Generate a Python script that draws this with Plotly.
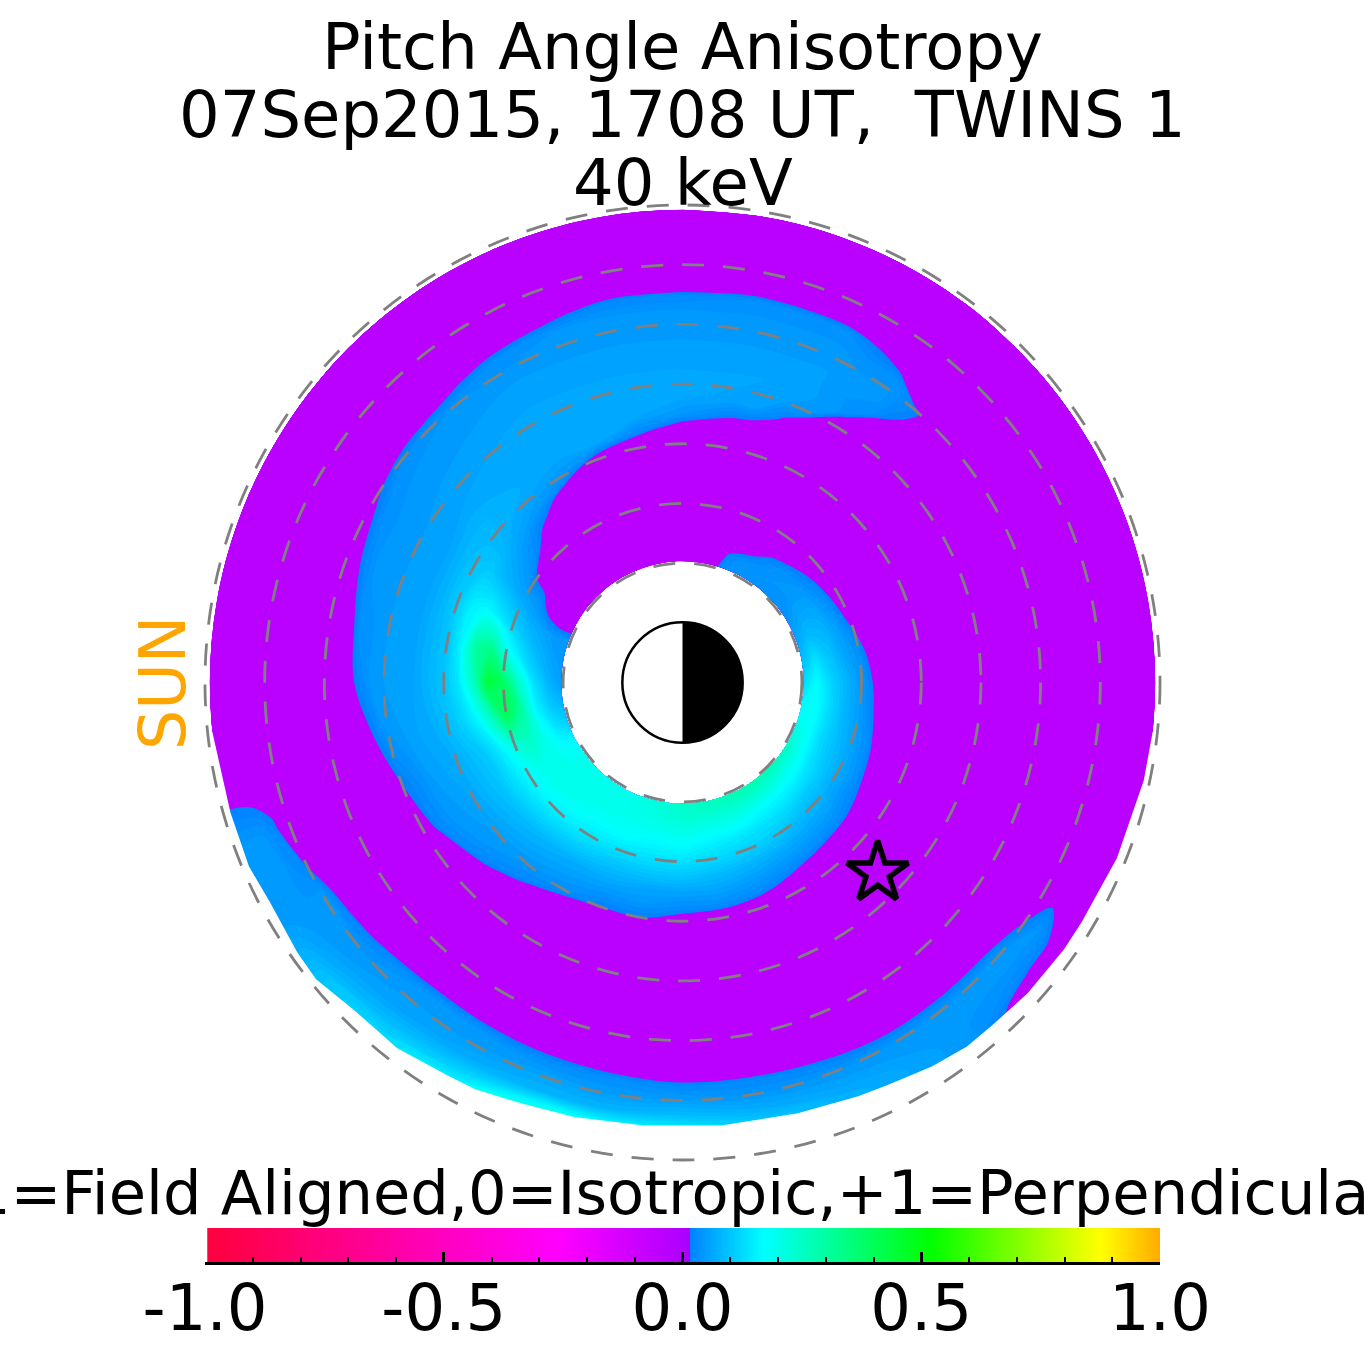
import numpy as np
import plotly.graph_objects as go

# ---- data ----
title_lines = ["Pitch Angle Anisotropy", "07Sep2015, 1708 UT,  TWINS 1", "40 keV"]
cbar_label = "-1=Field Aligned,0=Isotropic,+1=Perpendicular"
cbar_ticks = [-1.0, -0.5, 0.0, 0.5, 1.0]
cbar_ticktext = ["-1.0", "-0.5", "0.0", "0.5", "1.0"]
cbar_minor = [-0.9, -0.8, -0.7, -0.6, -0.4, -0.3, -0.2, -0.1, 0.1, 0.2, 0.3, 0.4, 0.6, 0.7, 0.8, 0.9]
star_xy = [3.27, -3.19]

# radial distance of grid rings (L)
rings = [2.03, 2.25, 2.5, 2.75, 3.0, 3.25, 3.5, 3.75, 4.0, 4.25, 4.5, 4.75, 5.0, 5.25,
         5.5, 5.75, 6.0, 6.25, 6.5, 6.75, 7.0, 7.25, 7.5, 7.75, 7.92]
# azimuth of each row (deg, counter-clockwise from the +x axis)
angles = [0, 10, 20, 30, 40, 50, 55, 60, 65, 70, 75, 80, 90, 100, 110, 120, 130, 140, 150, 160, 170, 180,
          190, 200, 210, 220, 230, 240, 250, 260, 270, 280, 290, 300, 310, 320, 325, 330, 340, 350]
# anisotropy x 100, one row per angle, one column per ring
aniso = [
 [12,17,11,7,3,-1,-5,-5,-5,-5,-5,-5,-5,-5,-5,-5,-5,-5,-5,-5,-5,-5,-5,-5,-5],
 [8,13,9,5,2,-3,-5,-5,-5,-5,-5,-5,-5,-5,-5,-5,-5,-5,-5,-5,-5,-5,-5,-5,-5],
 [5,8,7,4,-1,-4,-5,-5,-5,-5,-5,-5,-5,-5,-5,-5,-5,-5,-5,-5,-5,-5,-5,-5,-5],
 [3,5,5,2,-3,-5,-5,-5,-5,-5,-5,-5,-5,-5,-5,-5,-5,-5,-5,-5,-5,-5,-5,-5,-5],
 [2,3,3,0,-3,-5,-5,-5,-5,-5,-5,-5,-5,-5,-5,-5,-5,-5,-5,-5,-5,-5,-5,-5,-5],
 [2,3,2,-2,-5,-5,-5,-5,-5,-5,-5,-5,-5,-5,-5,0,1,-4,-5,-5,-5,-5,-5,-5,-5],
 [2,3,1,-3,-5,-5,-5,-5,-5,-5,-5,-5,-5,-4,2,3,3,2,-3,-5,-5,-5,-5,-5,-5],
 [2,3,-1,-5,-5,-5,-5,-5,-5,-5,-5,-5,-4,3,3,3,3,2,0,-5,-5,-5,-5,-5,-5],
 [2,2,-2,-5,-5,-5,-5,-5,-5,-5,-5,-4,3,4,4,4,3,3,2,-4,-5,-5,-5,-5,-5],
 [2,1,-5,-5,-5,-5,-5,-5,-5,-5,-4,1,4,4,4,4,3,3,2,-4,-5,-5,-5,-5,-5],
 [-1,-5,-5,-5,-5,-5,-5,-5,-5,-5,-1,4,4,5,4,4,3,3,2,-4,-5,-5,-5,-5,-5],
 [-3,-5,-5,-5,-5,-5,-5,-5,-5,-5,0,4,5,5,4,4,3,3,2,-4,-5,-5,-5,-5,-5],
 [-5,-5,-5,-5,-5,-5,-5,-5,-5,-3,3,5,5,5,4,4,3,3,1,-5,-5,-5,-5,-5,-5],
 [-5,-5,-5,-5,-5,-5,-5,-5,-5,1,5,6,5,5,4,4,3,3,1,-5,-5,-5,-5,-5,-5],
 [-5,-5,-5,-5,-5,-5,-5,-5,-3,5,6,6,5,5,4,4,3,3,-1,-5,-5,-5,-5,-5,-5],
 [-5,-5,-5,-5,-5,-5,-5,-3,3,5,6,6,5,5,4,4,3,2,-3,-5,-5,-5,-5,-5,-5],
 [-5,-5,-5,-5,-5,-5,-1,3,5,6,6,5,5,4,4,3,3,-1,-5,-5,-5,-5,-5,-5,-5],
 [-5,-5,-5,-5,-3,2,4,6,7,7,6,5,4,4,3,3,2,-3,-5,-5,-5,-5,-5,-5,-5],
 [-5,-5,-3,2,4,6,8,10,9,7,5,4,4,3,3,2,-1,-5,-5,-5,-5,-5,-5,-5,-5],
 [3,3,5,7,10,14,17,15,10,7,5,4,4,3,3,0,-4,-5,-5,-5,-5,-5,-5,-5,-5],
 [3,5,8,13,20,32,30,16,9,7,5,4,4,3,2,-4,-5,-5,-5,-5,-5,-5,-5,-5,-5],
 [4,7,13,24,38,43,25,14,9,7,5,4,4,3,0,-3,-5,-5,-5,-5,-5,-5,-5,-5,-5],
 [7,10,16,30,40,26,16,11,8,6,5,4,3,0,-4,-5,-5,-5,-5,-5,-5,-5,-5,-4,-4],
 [11,14,20,25,22,15,10,8,6,5,4,2,0,-4,-5,-5,-5,-5,-5,-5,-5,1,3,3,3],
 [17,18,20,20,17,13,9,7,5,4,3,1,-3,-5,-5,-5,-5,-5,-5,-2,3,3,3,3,3],
 [20,20,20,19,16,12,8,6,4,3,1,-4,-5,-5,-5,-5,-5,-5,-5,1,3,4,6,9,9],
 [20,20,20,18,15,11,7,5,3,1,-3,-5,-5,-5,-5,-5,-5,-5,-2,3,4,5,8,12,12],
 [20,20,19,17,14,10,6,4,2,-3,-5,-5,-5,-5,-5,-5,-5,-5,-2,3,4,6,11,17,17],
 [20,20,19,17,13,9,6,3,0,-4,-5,-5,-5,-5,-5,-5,-5,-5,-2,2,5,7,18,20,20],
 [22,21,19,16,13,9,5,3,0,-4,-5,-5,-5,-5,-5,-5,-5,-5,-3,2,4,7,17,20,20],
 [24,23,20,17,13,9,5,2,-2,-5,-5,-5,-5,-5,-5,-5,-5,-5,-4,1,4,8,15,17,17],
 [26,23,19,15,12,8,5,2,-3,-5,-5,-5,-5,-5,-5,-5,-5,-5,-5,1,3,6,10,12,12],
 [27,23,19,14,11,7,4,1,-4,-5,-5,-5,-5,-5,-5,-5,-5,-5,-5,0,3,5,7,7,7],
 [28,23,17,13,10,6,3,-1,-5,-5,-5,-5,-5,-5,-5,-5,-5,-5,-5,-1,3,4,5,5,5],
 [27,22,16,12,8,5,2,-3,-5,-5,-5,-5,-5,-5,-5,-5,-5,-5,-5,-1,3,3,3,3,3],
 [26,20,15,10,7,4,1,-4,-5,-5,-5,-5,-5,-5,-5,-5,-5,-5,-5,-2,3,3,1,-4,-5],
 [25,20,14,10,6,3,0,-5,-5,-5,-5,-5,-5,-5,-5,-5,-5,-5,-5,-5,0,3,0,-5,-5],
 [24,19,13,9,6,3,-1,-5,-5,-5,-5,-5,-5,-5,-5,-5,-5,-5,-5,-5,-3,-1,-4,-5,-5],
 [20,18,12,8,5,2,-3,-5,-5,-5,-5,-5,-5,-5,-5,-5,-5,-5,-5,-5,-5,-5,-5,-5,-5],
 [16,18,12,7,4,0,-3,-5,-5,-5,-5,-5,-5,-5,-5,-5,-5,-5,-5,-5,-5,-5,-5,-5,-5],
]
# where the data coverage stops on the night/bottom side
edge_angles = [186, 192, 196, 203, 208, 215, 219, 225, 232, 239, 243, 249, 256, 265, 275, 285,
               293, 297, 303, 308, 312, 318, 325, 329, 338, 348, 354]
edge_radii = [7.92, 7.87, 7.88, 7.89, 7.83, 7.88, 7.9, 7.77, 7.77, 7.67, 7.65, 7.55, 7.5, 7.45, 7.45, 7.47,
              7.53, 7.57, 7.67, 7.74, 7.74, 7.78, 7.8, 7.8, 7.85, 7.9, 7.92]
# colours: value -> rgb
bar_stops = [(-1.0, "rgb(255,0,60)"), (-0.26, "rgb(255,0,255)"), (0.014, "rgb(170,0,255)"),
             (0.014, "rgb(0,128,255)"), (0.17, "rgb(0,255,255)"), (0.52, "rgb(0,255,0)"),
             (0.875, "rgb(255,255,0)"), (1.0, "rgb(255,170,0)")]
map_stops = [(-0.125, "rgb(186,0,255)"), (0.0, "rgb(186,0,255)"), (0.0, "rgb(0,128,255)"),
             (0.17, "rgb(0,255,255)")]

# ---- geometry of the page ----
FONT = "DejaVu Sans"
FS = 64
PX = 59.69
CX = CY = 682.5
W = 1365

def paper_y(py):
    return 1 - py / W

# ---- traces ----
z = np.array(aniso, dtype=float) / 100.0
roll = angles.index(90)  # put the seam of the grid at the top
z = np.vstack([z[roll:], z[:roll], z[roll]])
b = np.array(angles[roll:] + [a + 360 for a in angles[:roll]] + [angles[roll] + 360], dtype=float)
a = np.array(rings)
R, T = np.meshgrid(a, np.radians(b))
X, Y = R * np.cos(T), R * np.sin(T)

lo, hi = map_stops[0][0], 0.505
map_scale = [[(v - lo) / (hi - lo), c] for v, c in map_stops]
map_scale.append([1.0, "rgb(0,255,0)"])
bar_scale = [[(v + 1) / 2, c] for v, c in bar_stops]

fig = go.Figure()
hidden = dict(showgrid=False, showline=False, showticklabels="none", startline=False, endline=False,
              minorgridcount=0, tickmode="array", tickvals=[], smoothing=1)
fig.add_trace(go.Carpet(a=a.tolist(), b=b.tolist(), x=X.tolist(), y=Y.tolist(), carpet="polar",
                        aaxis=hidden, baxis=hidden, xaxis="x", yaxis="y"))
fig.add_trace(go.Contourcarpet(a=a.tolist(), b=b.tolist(), z=z.tolist(), carpet="polar", autocontour=False,
                               contours=dict(start=-0.12, end=0.5, size=0.01, coloring="fill", showlines=False),
                               line=dict(width=0), colorscale=map_scale, showscale=False, xaxis="x", yaxis="y"))
# blank the part outside the covered area
ta = np.radians(edge_angles + edge_angles[::-1])
ra = np.array(edge_radii + [8.3] * len(edge_radii))
fig.add_trace(go.Scatter(x=(ra * np.cos(ta)).tolist(), y=(ra * np.sin(ta)).tolist(), mode="lines", fill="toself",
                         fillcolor="white", line=dict(width=0, color="white"), hoverinfo="skip",
                         showlegend=False, xaxis="x", yaxis="y"))
# night side of the Earth
ts = np.radians(np.arange(-90, 91, 3))
fig.add_trace(go.Scatter(x=(1.008 * np.cos(ts)).tolist(), y=(1.008 * np.sin(ts)).tolist(), mode="lines", fill="toself",
                         fillcolor="black", line=dict(width=0, color="black"), hoverinfo="skip",
                         showlegend=False, xaxis="x", yaxis="y"))
fig.add_trace(go.Scatter(x=[star_xy[0]], y=[star_xy[1]], mode="markers",
                         marker=dict(symbol="star-open", size=46, color="black", line=dict(width=5.5, color="black")),
                         showlegend=False, hoverinfo="skip", xaxis="x", yaxis="y"))
# colour bar as a strip on its own axis
strip = [-0.994 + i * 0.0025 for i in range(798)]
fig.add_trace(go.Heatmap(x=strip, y=[0], z=[strip], zmin=-1, zmax=1, colorscale=bar_scale, showscale=False,
                         xaxis="x2", yaxis="y2", hoverinfo="skip"))

shapes = []
for rr in [2, 3, 4, 5, 6, 7, 8]:
    shapes.append(dict(type="circle", xref="x", yref="y", x0=-rr, x1=rr, y0=-rr, y1=rr, layer="above",
                       line=dict(color="rgb(128,128,128)", width=2.8, dash="22px,19px")))
shapes.append(dict(type="circle", xref="x", yref="y", x0=-1.008, x1=1.008, y0=-1.008, y1=1.008, layer="above",
                   line=dict(color="black", width=2.5)))

ann = []
for text, py in zip(title_lines, [47, 115, 183]):
    ann.append(dict(text=text, x=0.5, xref="paper", y=paper_y(py), yref="paper", yanchor="middle", xanchor="center",
                    showarrow=False, font=dict(family=FONT, size=FS, color="black")))
ann.append(dict(text=cbar_label, x=671.5 / W, xref="paper", y=paper_y(1193), yref="paper", yanchor="middle", xanchor="center",
                showarrow=False, font=dict(family=FONT, size=60.7, color="black")))
ann.append(dict(text="SUN", x=163 / W, xref="paper", y=paper_y(683), yref="paper", yanchor="middle", xanchor="center",
                textangle=-90, showarrow=False, font=dict(family=FONT, size=63.5, color="orange")))

fig.update_layout(
    width=W, height=W, autosize=False, margin=dict(l=0, r=0, t=0, b=0, autoexpand=False), showlegend=False,
    paper_bgcolor="white", plot_bgcolor="rgba(0,0,0,0)",
    xaxis=dict(domain=[0, 1], range=[-CX / PX, (W - CX) / PX], visible=False, fixedrange=True),
    yaxis=dict(domain=[0, 1], range=[-(W - CY) / PX, CY / PX], visible=False, fixedrange=True),
    xaxis2=dict(domain=[205 / W, 1160 / W], range=[-1, 1], anchor="y2", tickmode="array", tickvals=cbar_ticks,
                ticktext=cbar_ticktext, ticks="inside", ticklen=10, tickwidth=2.5, tickcolor="black",
                showline=True, linecolor="black", linewidth=2.5, showgrid=False, zeroline=False,
                ticklabelstandoff=-12,
                minor=dict(tickmode="array", tickvals=cbar_minor, ticks="inside", ticklen=5, tickwidth=2, tickcolor="black", showgrid=False),
                tickfont=dict(family=FONT, size=FS, color="black"), fixedrange=True),
    yaxis2=dict(domain=[paper_y(1262), paper_y(1228)], anchor="x2", range=[-0.5, 0.5], visible=False, fixedrange=True),
    shapes=shapes, annotations=ann,
)
fig.write_html("out.html", config={"displayModeBar": False},
               post_script="document.body.style.margin='0';document.body.style.overflow='hidden';")
